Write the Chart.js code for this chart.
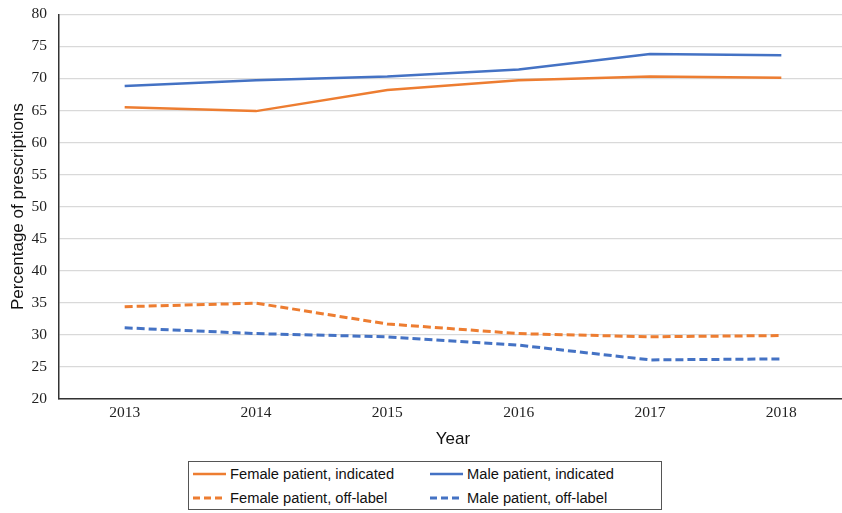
<!DOCTYPE html>
<html>
<head>
<meta charset="utf-8">
<script src="https://cdn.jsdelivr.net/npm/chart.js@4/dist/chart.umd.min.js"></script>
<style>
  html, body { margin: 0; padding: 0; background: #fff; overflow: hidden; }
  #wrap { position: relative; width: 842px; height: 513px; overflow: hidden; }
  #chartBox { position: absolute; left: 0; top: -7px; width: 849px; height: 465px; }
  #legend {
    position: absolute; left: 188px; top: 461px; width: 474px; height: 49px;
    border: 1px solid #555; box-sizing: border-box;
    font-family: "Liberation Sans", Arial, sans-serif; font-size: 14.7px; color: #111;
  }
  .item { position: absolute; display: flex; align-items: center; white-space: nowrap; }
  .item svg { margin-right: 4px; }
</style>
</head>
<body>
<div id="wrap">
  <div id="chartBox"><canvas id="c"></canvas></div>
  <div id="legend"></div>
</div>
<script>
// Years on the horizontal axis
const years = ['2013', '2014', '2015', '2016', '2017', '2018'];

// Share of prescriptions (%) by patient sex and indication status
const femaleIndicated = [65.5, 64.9, 68.2, 69.7, 70.3, 70.1];
const maleIndicated   = [68.8, 69.7, 70.3, 71.4, 73.8, 73.6];
const femaleOffLabel  = [34.4, 34.95, 31.7, 30.2, 29.7, 29.9];
const maleOffLabel    = [31.1, 30.2, 29.7, 28.4, 26.1, 26.25];

const seriesNames = [
  'Female patient, indicated',
  'Male patient, indicated',
  'Female patient, off-label',
  'Male patient, off-label'
];

const ORANGE = '#ED7D31';
const BLUE = '#4472C4';

function series(label, data, color, dashed) {
  return {
    label, data,
    borderColor: color, backgroundColor: color,
    borderWidth: dashed ? 3 : 2.5,
    borderDash: dashed ? [8, 4] : [],
    pointRadius: 0, tension: 0, fill: false
  };
}

const tickFont = { family: '"Liberation Serif", "Times New Roman", serif', size: 15.5 };
const titleFont = { family: '"Liberation Sans", Arial, sans-serif', size: 17 };

const chart = new Chart(document.getElementById('c'), {
  type: 'line',
  data: {
    labels: years,
    datasets: [
      series(seriesNames[0], femaleIndicated, ORANGE, false),
      series(seriesNames[1], maleIndicated, BLUE, false),
      series(seriesNames[2], femaleOffLabel, ORANGE, true),
      series(seriesNames[3], maleOffLabel, BLUE, true)
    ]
  },
  options: {
    responsive: true,
    maintainAspectRatio: false,
    animation: false,
    layout: { padding: { top: 0, right: 2, bottom: 8, left: 8 } },
    plugins: { legend: { display: false }, tooltip: { enabled: false } },
    scales: {
      x: {
        offset: true,
        grid: { display: false, drawTicks: false },
        border: { display: true, color: '#333', width: 1.5 },
        ticks: { padding: 5, color: '#222', font: tickFont },
        title: {
          display: true, text: 'Year', color: '#111', padding: { top: 2, bottom: 0 },
          font: titleFont
        }
      },
      y: {
        min: 20, max: 80,
        afterFit: (scale) => { scale.width = 51; },
        ticks: { stepSize: 5, padding: 12, color: '#222', font: tickFont },
        grid: { color: '#d9d9d9', lineWidth: 1.2, drawTicks: false },
        border: { display: true, color: '#333', width: 1.5 },
        title: {
          display: true, text: 'Percentage of prescriptions', color: '#111', padding: { top: 0, bottom: 2 },
          font: titleFont
        }
      }
    }
  }
});

// HTML legend built from the chart's datasets, laid out in two columns
const legend = document.getElementById('legend');
const pos = [
  { left: 4, top: 3 }, { left: 241, top: 3 },
  { left: 4, top: 27 }, { left: 241, top: 27 }
];
chart.data.datasets.forEach((ds, i) => {
  const item = document.createElement('div');
  item.className = 'item';
  item.style.left = pos[i].left + 'px';
  item.style.top = pos[i].top + 'px';
  const dash = ds.borderDash.length ? 'stroke-dasharray="7 4"' : '';
  item.innerHTML =
    '<svg width="33" height="18"><line x1="0" y1="9" x2="33" y2="9" stroke="' + ds.borderColor +
    '" stroke-width="' + ds.borderWidth + '" ' + dash + '/></svg><span>' + ds.label + '</span>';
  legend.appendChild(item);
});
</script>
</body>
</html>
